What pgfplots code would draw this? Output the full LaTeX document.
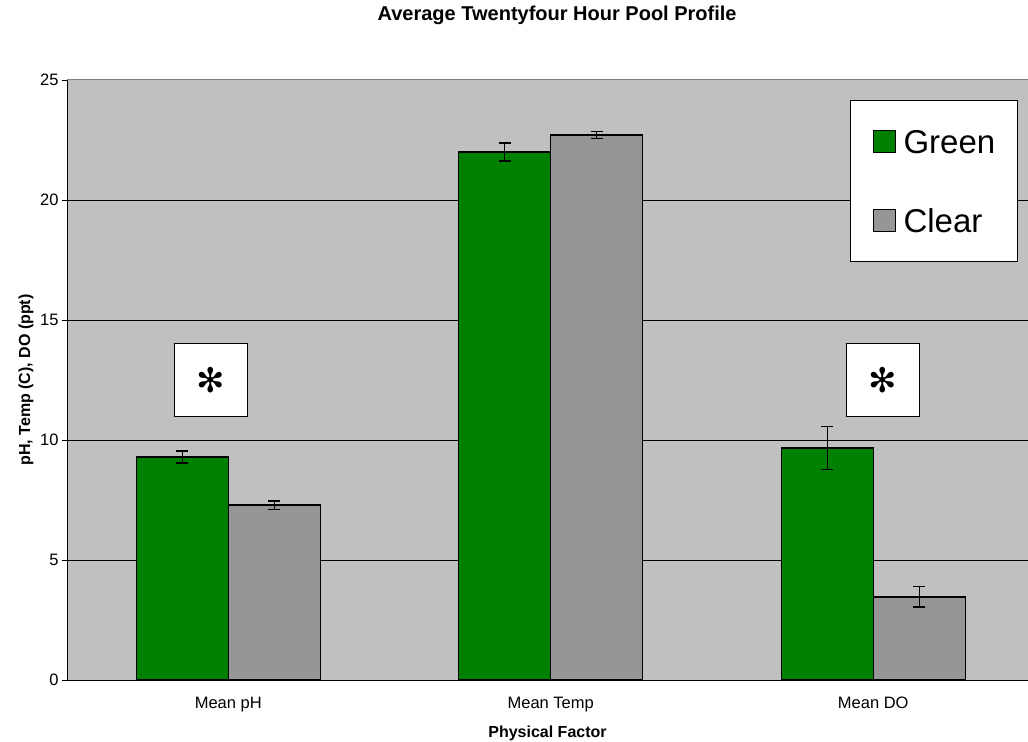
\documentclass[border=0pt]{standalone}
\usepackage{pgfplots}
\pgfplotsset{compat=1.18}
\usepackage{fontspec}
\setmainfont{Liberation Sans}
\newfontfamily\dejavu{DejaVu Sans}
\definecolor{mygreen}{RGB}{0,128,0}
\definecolor{mygray}{RGB}{150,150,150}
\definecolor{bggray}{RGB}{192,192,192}
\definecolor{bordergray}{RGB}{128,128,128}
\begin{document}
\begin{tikzpicture}
\useasboundingbox (-67bp,-62bp) rectangle (961bp,680bp);
\begin{axis}[
  at={(0,0)}, anchor=south west,
  scale only axis, width=961bp, height=600bp,
  xmin=-0.5, xmax=2.48, ymin=0, ymax=25,
  ybar=0pt, bar width=92bp,
  axis background/.style={fill=bggray, draw=bordergray, line width=1bp},
  axis x line*=bottom, axis y line*=left,
  axis line style={black, line width=1bp, -},
  xtick={0,1,2}, xticklabels={Mean pH, Mean Temp, Mean DO},
  major x tick style={draw=none},
  extra x ticks={0.5,1.5}, extra x tick labels={},
  extra x tick style={major tick length=5bp, grid=none, tick style={black, line width=0.8bp}},
  ytick={0,5,10,15,20}, extra y ticks={25}, extra y tick style={grid=none},
  ymajorgrids, grid style={black, line width=0.7bp},
  tick align=outside, major tick length=5bp,
  tick style={black, line width=0.8bp},
  /pgf/number format/assume math mode=true,
  ticklabel style={font=\fontsize{16.5bp}{18bp}\selectfont},
  xticklabel style={anchor=base, yshift=-23bp},
  title={\textbf{Average Twentyfour Hour Pool Profile}},
  title style={font=\fontsize{20bp}{24bp}\selectfont, at={(0.51,1)}, anchor=base, yshift=54bp},
  xlabel={\textbf{Physical Factor}},
  xlabel style={font=\fontsize{16bp}{19bp}\selectfont, at={(0.5,0)}, anchor=base, yshift=-57bp},
  ylabel={\textbf{pH, Temp (C), DO (ppt)}},
  ylabel style={font=\fontsize{16bp}{19bp}\selectfont, at={(-0.0385,0.5)}, anchor=base},
  legend style={at={(0.8148,0.9667)}, anchor=north west, draw=black, line width=1bp, fill=white,
    font=\fontsize{33bp}{36bp}\selectfont, cells={anchor=base west},
    nodes={inner sep=0pt, text height=24bp, text depth=0pt},
    column sep=8bp, row sep=55bp, inner xsep=22bp, inner ysep=29bp},
  error bars/y dir=both, error bars/y explicit,
  error bars/error bar style={black, line width=1.2bp},
  error bars/error mark options={rotate=90, mark size=6bp, line width=1.2bp, black},
]
\addplot[fill=mygreen, draw=black, line width=1.2bp,
  legend image code/.code={\draw[fill=mygreen,draw=black,line width=1bp] (0bp,1bp) rectangle (22bp,23bp);}]
  coordinates {(0,9.29) +- (0,0.25) (1,22.0) +- (0,0.375) (2,9.67) +- (0,0.9)};
\addplot[fill=mygray, draw=black, line width=1.2bp,
  legend image code/.code={\draw[fill=mygray,draw=black,line width=1bp] (0bp,1bp) rectangle (22bp,23bp);}]
  coordinates {(0,7.29) +- (0,0.17) (1,22.71) +- (0,0.15) (2,3.46) +- (0,0.42)};
\legend{Green, Clear}
\node[draw=black, line width=1.5bp, fill=white, minimum width=73bp, minimum height=73bp, inner sep=0pt]
  at (axis cs:-0.053,12.5) {\dejavu\fontsize{34bp}{34bp}\selectfont ✻};
\node[draw=black, line width=1.5bp, fill=white, minimum width=73bp, minimum height=73bp, inner sep=0pt]
  at (axis cs:2.031,12.5) {\dejavu\fontsize{34bp}{34bp}\selectfont ✻};
\end{axis}
\end{tikzpicture}
\end{document}
